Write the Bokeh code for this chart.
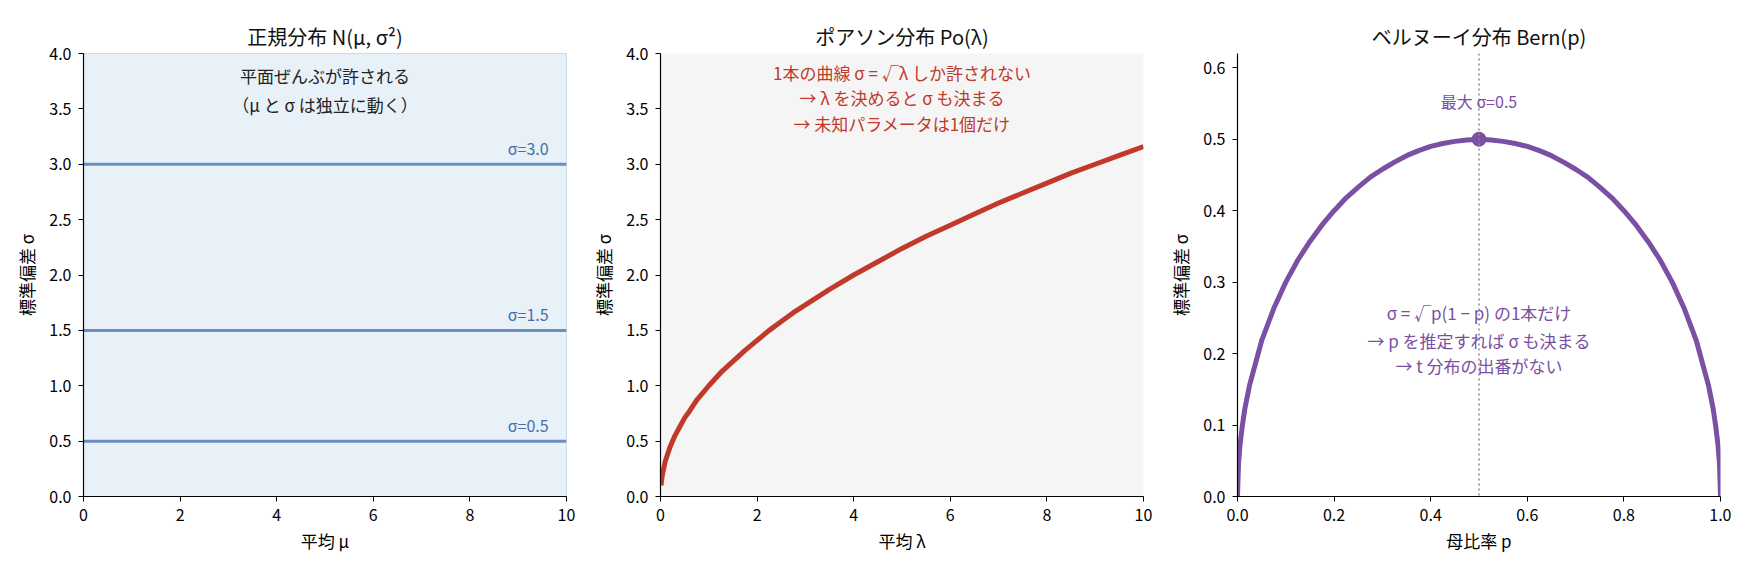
from bokeh.plotting import figure
from bokeh.layouts import row
from bokeh.models import Range1d, Label, Span, FixedTicker, NumeralTickFormatter
from bokeh.embed import file_html
from bokeh.resources import INLINE

# normal distribution: allowed sigma levels (horizontal lines)
mu_range = [0, 10]
sigma_levels = [0.5, 1.5, 3.0]
sigma_labels = ["σ=0.5", "σ=1.5", "σ=3.0"]

# poisson: sigma = sqrt(lambda)
lam = [0.01, 0.03, 0.05, 0.1, 0.2, 0.3, 0.4, 0.5, 0.6, 0.75, 1, 1.25, 1.5, 1.75, 2, 2.25,
       2.5, 2.75, 3, 3.5, 4, 4.5, 5, 5.5, 6, 6.5, 7, 7.5, 8, 8.5, 9, 9.5, 10]
lam_sigma = [0.10, 0.17, 0.22, 0.32, 0.45, 0.55, 0.63, 0.71, 0.77, 0.87, 1.00, 1.12, 1.22,
             1.32, 1.41, 1.50, 1.58, 1.66, 1.73, 1.87, 2.00, 2.12, 2.24, 2.35, 2.45, 2.55,
             2.65, 2.74, 2.83, 2.92, 3.00, 3.08, 3.16]

# bernoulli: sigma = sqrt(p(1-p))
p_vals = [0, 0.002, 0.005, 0.01, 0.015, 0.025, 0.05, 0.075, 0.1, 0.125, 0.15, 0.175, 0.2,
          0.225, 0.25, 0.275, 0.3, 0.325, 0.35, 0.375, 0.4, 0.425, 0.45, 0.475, 0.5,
          0.525, 0.55, 0.575, 0.6, 0.625, 0.65, 0.675, 0.7, 0.725, 0.75, 0.775, 0.8,
          0.825, 0.85, 0.875, 0.9, 0.925, 0.95, 0.975, 0.985, 0.99, 0.995, 0.998, 1]
p_sigma = [0, 0.045, 0.071, 0.099, 0.122, 0.156, 0.218, 0.263, 0.300, 0.331, 0.357, 0.380,
           0.400, 0.418, 0.433, 0.447, 0.458, 0.468, 0.477, 0.484, 0.490, 0.494, 0.497,
           0.499, 0.500, 0.499, 0.497, 0.494, 0.490, 0.484, 0.477, 0.468, 0.458, 0.447,
           0.433, 0.418, 0.400, 0.380, 0.357, 0.331, 0.300, 0.263, 0.218, 0.156, 0.122,
           0.099, 0.071, 0.045, 0]
peak_p = [0.5]
peak_sigma = [0.5]

FONT = "Noto Sans CJK JP"
BLUE = "#6b90bf"
BLUE_TXT = "#4470aa"
RED = "#c0392b"
PURPLE = "#7b4fa3"


def make_fig(title, xr, yr, xlabel, xticks, yticks, bg):
    p = figure(frame_width=483, frame_height=443, x_range=Range1d(*xr), y_range=Range1d(*yr),
               output_backend="svg", toolbar_location=None, title=title,
               min_border_left=83, min_border_right=11, min_border_top=53,
               min_border_bottom=64)
    p.background_fill_color = bg
    p.outline_line_color = None
    p.grid.visible = False
    p.title.align = "center"
    p.title.text_font = FONT
    p.title.text_font_size = "20px"
    p.title.text_font_style = "normal"
    p.title.text_color = "#111111"
    p.title.standoff = 6
    p.xaxis.ticker = FixedTicker(ticks=xticks)
    p.yaxis.ticker = FixedTicker(ticks=yticks)
    p.xaxis.axis_label = xlabel
    p.yaxis.axis_label = "標準偏差 σ"
    for ax in (p.xaxis[0], p.yaxis[0]):
        ax.axis_line_color = "black"
        ax.axis_line_width = 1.2
        ax.major_tick_line_color = "black"
        ax.major_tick_in = 0
        ax.major_tick_out = 5
        ax.minor_tick_line_color = None
        ax.major_label_standoff = 7
        ax.major_label_text_font = FONT
        ax.major_label_text_font_size = "16px"
        ax.major_label_text_color = "black"
        ax.axis_label_text_font = FONT
        ax.axis_label_text_font_size = "17px"
        ax.axis_label_text_font_style = "normal"
        ax.axis_label_text_color = "black"
    p.xaxis.axis_label_standoff = 4
    p.yaxis.axis_label_standoff = 7
    return p


def note(p, x, y, text, color, size="17px", align="center"):
    p.add_layout(Label(x=x, y=y, text=text, text_align=align, text_baseline="middle",
                       text_font=FONT, text_font_size=size, text_color=color))


# panel 1
p1 = make_fig("正規分布 N(μ, σ²)", (0, 10), (0, 4), "平均 μ",
              [0, 2, 4, 6, 8, 10], [0, 0.5, 1, 1.5, 2, 2.5, 3, 3.5, 4], "#e8f0f8")
p1.outline_line_color = "#c8dbef"
p1.yaxis.formatter = NumeralTickFormatter(format="0.0")
for lvl, lab in zip(sigma_levels, sigma_labels):
    p1.line(mu_range, [lvl, lvl], line_color=BLUE, line_width=3)
    note(p1, 9.63, lvl + 0.15, lab, BLUE_TXT, size="16px", align="right")
note(p1, 5, 3.80, "平面ぜんぶが許される", "#222222")
note(p1, 5, 3.54, "（μ と σ は独立に動く）", "#222222")

# panel 2
p2 = make_fig("ポアソン分布 Po(λ)", (0, 10), (0, 4), "平均 λ",
              [0, 2, 4, 6, 8, 10], [0, 0.5, 1, 1.5, 2, 2.5, 3, 3.5, 4], "#f5f5f5")
p2.yaxis.formatter = NumeralTickFormatter(format="0.0")
p2.line(lam, lam_sigma, line_color=RED, line_width=5)
note(p2, 5, 3.83, "1本の曲線 σ = √λ しか許されない", RED)
note(p2, 5, 3.60, "→ λ を決めると σ も決まる", RED)
note(p2, 5, 3.37, "→ 未知パラメータは1個だけ", RED)

# panel 3
p3 = make_fig("ベルヌーイ分布 Bern(p)", (0, 1), (0, 0.62), "母比率 p",
              [0, 0.2, 0.4, 0.6, 0.8, 1.0], [0, 0.1, 0.2, 0.3, 0.4, 0.5, 0.6], "white")
p3.xaxis.formatter = NumeralTickFormatter(format="0.0")
p3.yaxis.formatter = NumeralTickFormatter(format="0.0")
p3.add_layout(Span(location=peak_p[0], dimension="height", line_color="#888888",
                   line_dash="2 3", line_width=1.5))
p3.line(p_vals, p_sigma, line_color=PURPLE, line_width=5)
p3.scatter(peak_p, peak_sigma, size=14, color=PURPLE)
note(p3, 0.5, 0.553, "最大 σ=0.5", PURPLE, size="16px")
note(p3, 0.5, 0.257, "σ = √p(1 − p) の1本だけ", PURPLE)
note(p3, 0.5, 0.219, "→ p を推定すれば σ も決まる", PURPLE)
note(p3, 0.5, 0.183, "→ t 分布の出番がない", PURPLE)

layout = row(p1, p2, p3)
open("out.html", "w").write(file_html(layout, INLINE))
